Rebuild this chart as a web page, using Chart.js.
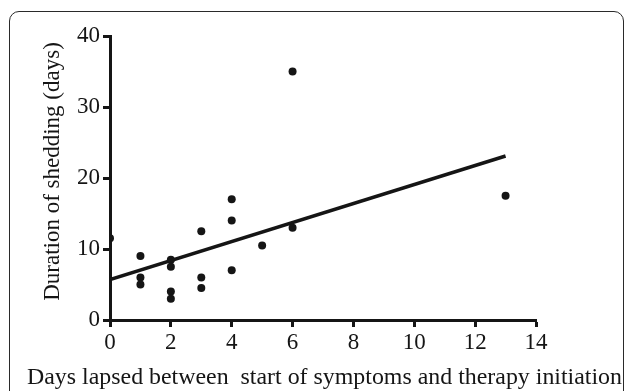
<!DOCTYPE html>
<html>
<head>
<meta charset="utf-8">
<script src="https://cdn.jsdelivr.net/npm/chart.js@4/dist/chart.umd.min.js"></script>
<style>
  html, body { margin: 0; padding: 0; background: #fff; overflow: hidden; }
  #wrap { position: relative; width: 627px; height: 391px; }
  #frame {
    position: absolute; left: 9px; top: 11px; width: 615px; height: 420px;
    border: 1.5px solid #2a2a2a; border-radius: 10px; box-sizing: border-box;
  }
  canvas { position: absolute; left: 0; top: 0; }
</style>
</head>
<body>
<div id="wrap">
  <div id="frame"></div>
  <canvas id="chart" width="627" height="391"></canvas>
</div>
<script>
// days between symptom onset and therapy start
const daysLapsed = [0, 1, 1, 1, 2, 2, 2, 2, 3, 3, 3, 4, 4, 4, 5, 6, 6, 13];
// duration of viral shedding
const shedding = [11.5, 9, 6, 5, 8.5, 7.5, 4, 3, 12.5, 6, 4.5, 17, 14, 7, 10.5, 35, 13, 17.5];

// fitted regression line ends
const fitX = [0, 13];
const fitY = [5.7, 23.1];

const xTicks = [0, 2, 4, 6, 8, 10, 12, 14];
const yTicks = [0, 10, 20, 30, 40];

const xTitle = 'Days lapsed between  start of symptoms and therapy initiation';
const yTitle = 'Duration of shedding (days)';

const ink = '#151515';
const serif = "'Liberation Serif', 'DejaVu Serif', serif";

const pts = daysLapsed.map((d, i) => ({ x: d, y: shedding[i] }));
const fit = fitX.map((d, i) => ({ x: d, y: fitY[i] }));

// axis titles drawn by hand so the x one can run wider than the plot area
const axisTitles = {
    id: 'axisTitles',
    afterDraw(chart) {
        const ctx = chart.ctx;
        ctx.save();
        ctx.fillStyle = ink;
        ctx.textAlign = 'center';
        ctx.textBaseline = 'alphabetic';
        ctx.font = '24px ' + serif;
        ctx.fillText(xTitle, 324.5, 384, 595);

        ctx.translate(59, 171.5);
        ctx.rotate(-Math.PI / 2);
        ctx.font = '23px ' + serif;
        ctx.fillText(yTitle, 0, 0);
        ctx.restore();
    }
};

new Chart(document.getElementById('chart'), {
    type: 'scatter',
    data: {
        datasets: [
            {
                data: pts,
                backgroundColor: ink,
                borderColor: ink,
                pointRadius: 4,
                pointBorderWidth: 0,
            },
            {
                data: fit,
                showLine: true,
                borderColor: ink,
                borderWidth: 3.5,
                pointRadius: 0,
                fill: false,
            },
        ],
    },
    options: {
        responsive: false,
        animation: false,
        layout: { padding: { left: 0, top: 36, right: 91, bottom: 0 } },
        plugins: {
            legend: { display: false },
            tooltip: { enabled: false },
        },
        scales: {
            x: {
                type: 'linear',
                min: 0,
                max: 14,
                afterFit: (s) => { s.height = 71; },
                afterBuildTicks: (s) => { s.ticks = xTicks.map(v => ({ value: v })); },
                border: { display: true, width: 3, color: ink },
                grid: { drawOnChartArea: false, drawTicks: true, tickLength: 7, tickWidth: 3, color: ink },
                ticks: { color: ink, padding: 2, font: { family: serif, size: 23 }, maxRotation: 0 },
            },
            y: {
                type: 'linear',
                min: 0,
                max: 40,
                afterFit: (s) => { s.width = 110; },
                afterBuildTicks: (s) => { s.ticks = yTicks.map(v => ({ value: v })); },
                border: { display: true, width: 3, color: ink },
                grid: { drawOnChartArea: false, drawTicks: true, tickLength: 7, tickWidth: 3, color: ink },
                ticks: { color: ink, padding: 3, font: { family: serif, size: 23 } },
            },
        },
    },
    plugins: [axisTitles],
});
</script>
</body>
</html>
